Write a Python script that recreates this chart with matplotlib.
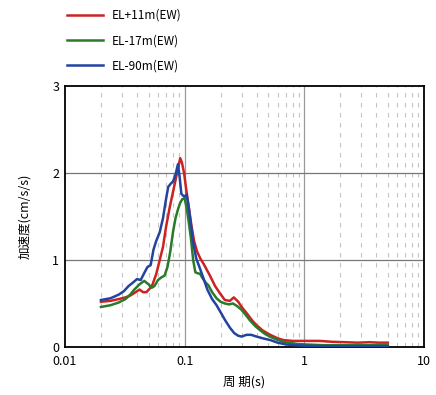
import matplotlib
matplotlib.use("Agg")
import matplotlib.pyplot as plt
import numpy as np

plt.rcParams['font.family'] = ['Noto Sans CJK JP', 'DejaVu Sans']

# period (s) and acceleration (cm/s/s)
period_red = [0.02, 0.024, 0.028, 0.032, 0.035, 0.038, 0.042, 0.045, 0.048, 0.051, 0.054, 0.058,
              0.062, 0.066, 0.070, 0.075, 0.080, 0.085, 0.089, 0.092, 0.095, 0.099, 0.103, 0.108,
              0.114, 0.120, 0.127, 0.135, 0.145, 0.163, 0.18, 0.197, 0.217, 0.239, 0.258, 0.281,
              0.30, 0.33, 0.37, 0.40, 0.45, 0.52, 0.6, 0.67, 0.8, 1.0, 1.35, 1.7, 2.2, 2.8, 3.5,
              4.2, 5.0]
accel_red = [0.52, 0.53, 0.55, 0.57, 0.59, 0.62, 0.66, 0.63, 0.63, 0.67, 0.72, 0.84,
             1.00, 1.15, 1.38, 1.60, 1.78, 1.95, 2.08, 2.17, 2.12, 2.00, 1.82, 1.62,
             1.40, 1.22, 1.10, 1.02, 0.95, 0.82, 0.70, 0.62, 0.54, 0.53, 0.57, 0.52,
             0.46, 0.39, 0.30, 0.25, 0.19, 0.14, 0.10, 0.08, 0.07, 0.07, 0.07, 0.06, 0.055, 0.05, 0.055,
             0.05, 0.05]

period_green = [0.02, 0.024, 0.028, 0.032, 0.035, 0.038, 0.042, 0.046, 0.050, 0.053, 0.056, 0.060,
                0.064, 0.068, 0.072, 0.076, 0.080, 0.084, 0.088, 0.092, 0.096, 0.100, 0.104, 0.108,
                0.113, 0.118, 0.123, 0.127, 0.135, 0.14, 0.15, 0.158, 0.17, 0.185, 0.20, 0.217,
                0.235, 0.254, 0.275, 0.298, 0.32, 0.35, 0.39, 0.426, 0.47, 0.516, 0.58, 0.667,
                0.87, 1.0, 1.5, 2.0, 3.0, 4.0, 5.0]
accel_green = [0.46, 0.48, 0.51, 0.55, 0.60, 0.66, 0.72, 0.76, 0.72, 0.68, 0.70, 0.77,
               0.80, 0.82, 0.92, 1.10, 1.32, 1.48, 1.58, 1.66, 1.70, 1.71, 1.60, 1.45,
               1.25, 1.00, 0.86, 0.85, 0.84, 0.80, 0.74, 0.71, 0.63, 0.56, 0.52, 0.50,
               0.49, 0.50, 0.47, 0.43, 0.38, 0.31, 0.24, 0.195, 0.15, 0.12, 0.09, 0.06,
               0.035, 0.03, 0.02, 0.02, 0.02, 0.02, 0.02]

period_blue = [0.02, 0.024, 0.028, 0.031, 0.034, 0.037, 0.040, 0.043, 0.046, 0.049, 0.052, 0.055,
               0.058, 0.062, 0.066, 0.070, 0.073, 0.077, 0.080, 0.084, 0.088, 0.091, 0.094, 0.097,
               0.100, 0.104, 0.108, 0.112, 0.118, 0.125, 0.133, 0.143, 0.155, 0.17, 0.185, 0.20,
               0.22, 0.24, 0.26, 0.28, 0.30, 0.33, 0.36, 0.40, 0.45, 0.52, 0.6, 0.7, 0.85, 1.0,
               1.5, 2.0, 3.0, 4.0, 5.0]
accel_blue = [0.54, 0.56, 0.60, 0.64, 0.70, 0.74, 0.78, 0.77, 0.85, 0.92, 0.94, 1.12,
              1.22, 1.32, 1.48, 1.70, 1.84, 1.88, 1.90, 1.98, 2.10, 1.95, 1.76, 1.74,
              1.73, 1.75, 1.62, 1.45, 1.20, 1.02, 0.92, 0.80, 0.66, 0.55, 0.48, 0.40,
              0.30, 0.22, 0.16, 0.13, 0.12, 0.14, 0.14, 0.12, 0.10, 0.08, 0.05, 0.03, 0.02, 0.015,
              0.01, 0.01, 0.01, 0.01, 0.01]

labels = ["EL+11m(EW)", "EL-17m(EW)", "EL-90m(EW)"]
colors = ["#cc2222", "#2a7a2a", "#2244a0"]

fig = plt.figure(figsize=(4.36, 3.95), dpi=100)
ax = fig.add_axes([0.149, 0.1215, 0.823, 0.661])

# minor dashed grid (2..9 of each decade)
for dec in [0.01, 0.1, 1]:
    for m in range(2, 10):
        ax.axvline(dec * m, color="#c4c4c4", lw=0.8, ls=(0, (4, 5)), zorder=1)
for xv in [0.1, 1]:
    ax.axvline(xv, color="#999999", lw=0.9, zorder=1)
for yv in [1, 2]:
    ax.axhline(yv, color="#777777", lw=0.9, zorder=1)

lines = []
for p, a, c, lab in zip([period_red, period_green, period_blue],
                        [accel_red, accel_green, accel_blue], colors, labels):
    l, = ax.plot(p, a, color=c, lw=1.8, label=lab, zorder=3)
    lines.append(l)

ax.set_xscale("log")
ax.set_xlim(0.01, 10)
ax.set_ylim(0, 3)
ax.set_xticks([0.01, 0.1, 1, 10])
ax.set_xticklabels(["0.01", "0.1", "1", "10"])
ax.set_yticks([0, 1, 2, 3])
ax.minorticks_off()
ax.tick_params(axis="x", length=0, labelsize=9, pad=6)
ax.tick_params(axis="y", length=0, labelsize=9, pad=4)
for s in ax.spines.values():
    s.set_linewidth(1.3)

ax.set_xlabel("周 期(s)", fontsize=9, labelpad=5)
ax.set_ylabel("加速度(cm/s/s)", fontsize=9, labelpad=15)

fig.legend(handles=lines, loc="upper left", bbox_to_anchor=(0.13, 1.005), frameon=False,
           fontsize=8.5, handlelength=3.0, handletextpad=0.8, labelspacing=1.05)

fig.savefig("out.png", dpi=100)
